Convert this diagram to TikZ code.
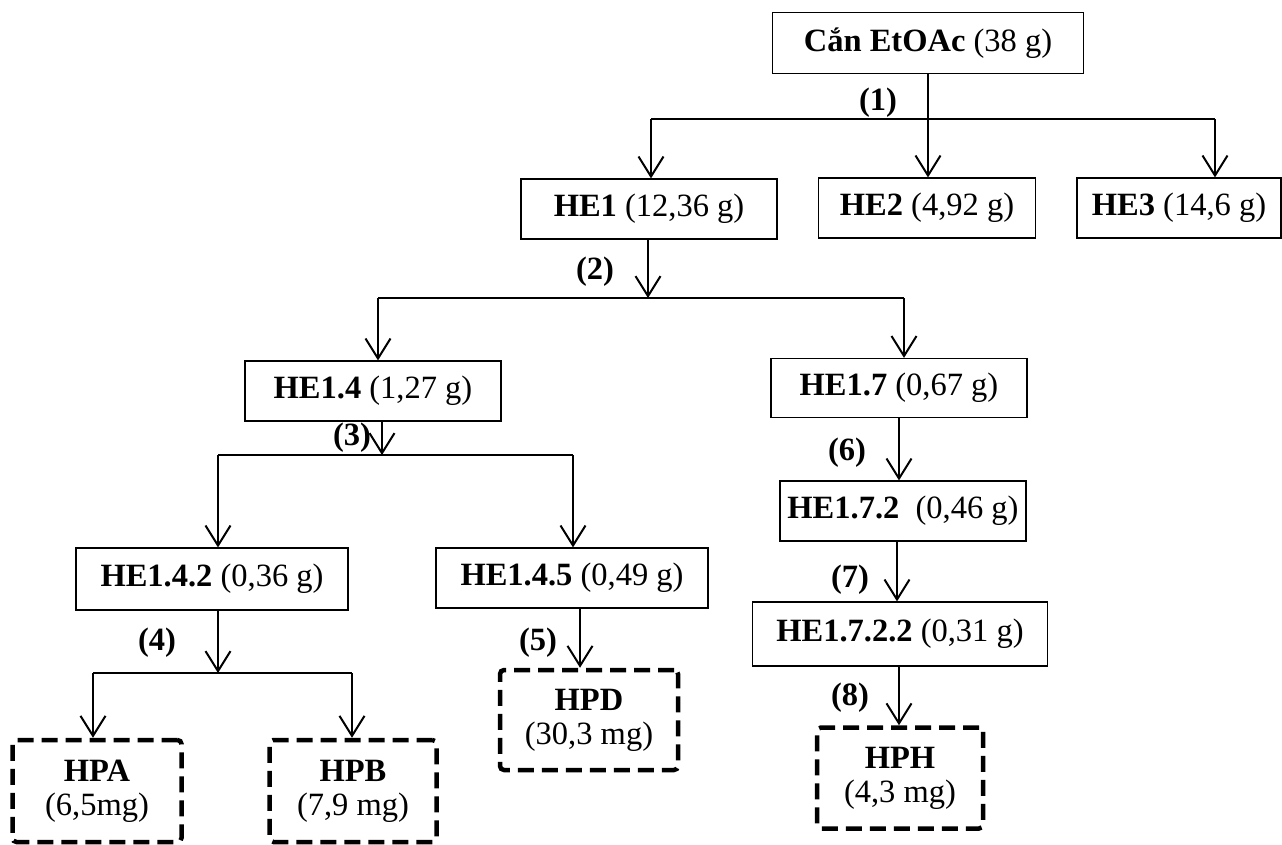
\documentclass[tikz,border=0pt]{standalone}
\usepackage{fontspec}
\setmainfont{Liberation Serif}
\usetikzlibrary{arrows.meta}

\newcommand{\chartfont}{\fontsize{32.5}{34}\selectfont}

\tikzset{
  box/.style={draw, line width=1.2pt, minimum height=60pt, inner sep=0pt},
  fin/.style={draw, line width=4.5pt, dash pattern=on 16pt off 8pt,
    rounded corners=4pt, align=center, inner sep=0pt},
  arr/.style={line width=2pt, -{Straight Barb[length=20pt,width=25pt]}},
  ln/.style={line width=2pt},
  stage/.style={font=\chartfont\bfseries}
}

\begin{document}
\begin{tikzpicture}[x=1pt, y=-1pt, font=\chartfont]
  \useasboundingbox (0,0) rectangle (1282,844);

  % fractions
  \node[box, minimum width=311pt, minimum height=61pt] (can) at (928,43) {\textbf{Cắn EtOAc} (38 g)};
  \node[box, minimum width=256pt] (he1) at (649,209) {\textbf{HE1} (12,36 g)};
  \node[box, minimum width=217pt] (he2) at (927,208) {\textbf{HE2} (4,92 g)};
  \node[box, minimum width=204pt] (he3) at (1179,208) {\textbf{HE3} (14,6 g)};
  \node[box, minimum width=256pt] (he14) at (373,391) {\textbf{HE1.4} (1,27 g)};
  \node[box, minimum width=256pt, minimum height=59pt] (he17) at (899,388) {\textbf{HE1.7} (0,67 g)};
  \node[box, minimum width=272pt, minimum height=62pt] (he142) at (212,579) {\textbf{HE1.4.2} (0,36 g)};
  \node[box, minimum width=272pt] (he145) at (572,578) {\textbf{HE1.4.5} (0,49 g)};
  \node[box, minimum width=246pt] (he172) at (903,511) {\textbf{HE1.7.2}\ \ (0,46 g)};
  \node[box, minimum width=295pt, minimum height=64pt] (he1722) at (900,634) {\textbf{HE1.7.2.2} (0,31 g)};

  % pure compounds
  \node[fin, minimum width=169pt, minimum height=102pt] (hpa) at (97,791) {\textbf{HPA}\\(6,5mg)};
  \node[fin, minimum width=167pt, minimum height=102pt] (hpb) at (353,791) {\textbf{HPB}\\(7,9 mg)};
  \node[fin, minimum width=178pt, minimum height=100pt] (hpd) at (589,720) {\textbf{HPD}\\(30,3 mg)};
  \node[fin, minimum width=166pt, minimum height=101pt] (hph) at (900,778) {\textbf{HPH}\\(4,3 mg)};

  % junctions
  \coordinate (j1l) at (651,119);
  \coordinate (j1r) at (1215,119);
  \coordinate (j2) at (648,298);
  \coordinate (j2l) at (378,298);
  \coordinate (j2r) at (904,298);
  \coordinate (j3) at (382,455);
  \coordinate (j3l) at (218,455);
  \coordinate (j3r) at (573,455);
  \coordinate (j4) at (218,673);
  \coordinate (j4l) at (93,673);
  \coordinate (j4r) at (352,673);

  % step (1)
  \draw[arr] (can.south) -- (can.south |- he2.north);
  \draw[ln] (j1l) -- (j1r);
  \draw[arr] (j1l) -- (j1l |- he1.north);
  \draw[arr] (j1r) -- (j1r |- he3.north);
  \node[stage] (s1) at (878,103) {(1)};

  % step (2)
  \draw[arr] (j2 |- he1.south) -- (j2);
  \draw[ln] (j2l) -- (j2r);
  \draw[arr] (j2l) -- (j2l |- he14.north);
  \draw[arr] (j2r) -- (j2r |- he17.north);
  \node[stage] (s2) at (595,272) {(2)};

  % step (3)
  \draw[arr] (j3 |- he14.south) -- (j3);
  \draw[ln] (j3l) -- (j3r);
  \draw[arr] (j3l) -- (j3l |- he142.north);
  \draw[arr] (j3r) -- (j3r |- he145.north);
  \node[stage] (s3) at (352,438) {(3)};

  % step (4)
  \draw[arr] (j4 |- he142.south) -- (j4);
  \draw[ln] (j4l) -- (j4r);
  \draw[arr] (j4l) -- (j4l |- hpa.north);
  \draw[arr] (j4r) -- (j4r |- hpb.north);
  \node[stage] (s4) at (157,643) {(4)};

  % steps (5)-(8)
  \draw[arr] ([xshift=8pt]he145.south) -- ([xshift=-9pt]hpd.north);
  \node[stage] (s5) at (538,643) {(5)};
  \draw[arr] (he17.south) -- (he17.south |- he172.north);
  \node[stage] (s6) at (847,453) {(6)};
  \draw[arr] ([xshift=-6pt]he172.south) -- ([xshift=-3pt]he1722.north);
  \node[stage] (s7) at (850,580) {(7)};
  \draw[arr] ([xshift=-1pt]he1722.south) -- ([xshift=-1pt]hph.north);
  \node[stage] (s8) at (850,698) {(8)};
\end{tikzpicture}
\end{document}
